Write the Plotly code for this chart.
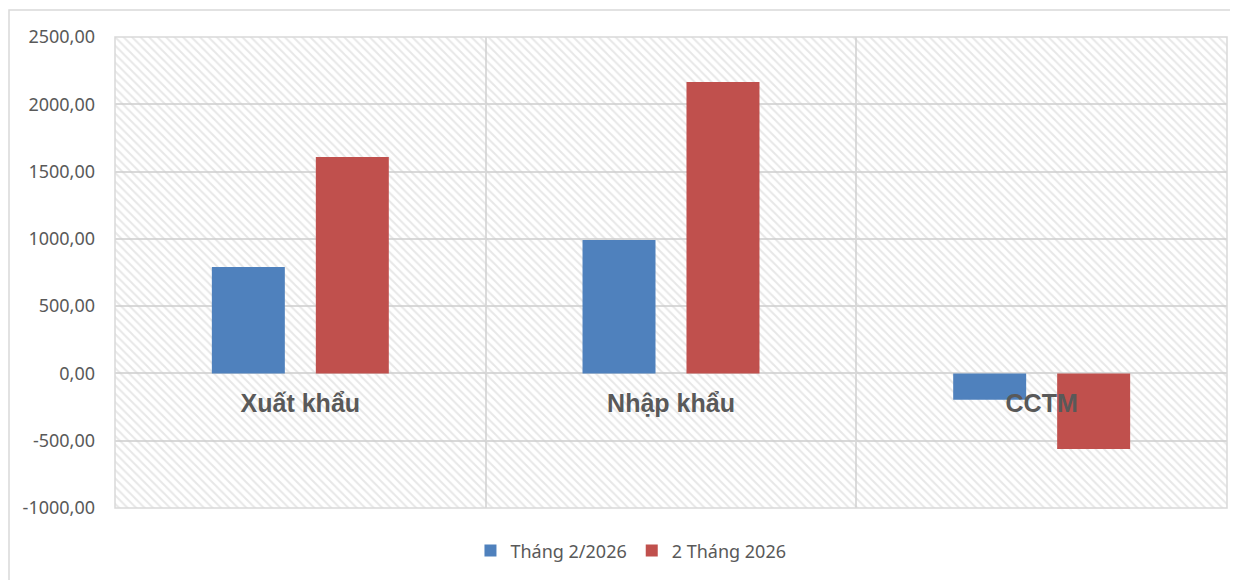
import plotly.graph_objects as go

categories = ["Xuất khẩu", "Nhập khẩu", "CCTM"]
series_names = ["Tháng 2/2026", "2 Tháng 2026"]
thang2_2026 = [790.0, 992.0, -195.0]
hai_thang_2026 = [1608.0, 2166.0, -561.0]
series_colors = ["#4F81BD", "#C0504D"]
y_ticks = [-1000, -500, 0, 500, 1000, 1500, 2000, 2500]
y_tick_text = [f"{v:.2f}".replace(".", ",") for v in y_ticks]
y_min, y_max = -1000, 2500

fig = go.Figure()

# decorative hatched plot-area background (on hidden primary axes, in plot-area fractions)
fig.add_trace(go.Scatter(
    x=[0, 1, 1, 0, 0], y=[0, 0, 1, 1, 0],
    xaxis="x", yaxis="y",
    mode="lines", fill="toself",
    line=dict(width=0, color="rgba(0,0,0,0)"),
    fillcolor="rgba(0,0,0,0)",
    fillpattern=dict(shape="\\", fgcolor="#d0d0d0", bgcolor="rgba(255,255,255,0)",
                     size=6, solidity=0.32),
    hoverinfo="skip", showlegend=False,
))

for name, vals, col in zip(series_names, [thang2_2026, hai_thang_2026], series_colors):
    fig.add_trace(go.Bar(
        x=categories, y=vals, name=name,
        marker=dict(color=col, line=dict(width=0)),
        xaxis="x2", yaxis="y2",
    ))

zero_pos = (0 - y_min) / (y_max - y_min)

fig.update_layout(
    width=1230, height=572,
    margin=dict(l=107, r=11, t=29, b=72),
    paper_bgcolor="white", plot_bgcolor="white",
    barmode="group", bargap=0.439, bargroupgap=0.298,
    font=dict(family="Noto Sans", color="#595959"),
    xaxis=dict(domain=[0, 1], range=[0, 1], visible=False, fixedrange=True),
    yaxis=dict(domain=[0, 1], range=[0, 1], visible=False, fixedrange=True),
    xaxis2=dict(
        overlaying="x", anchor="free", position=zero_pos,
        type="category", tickson="boundaries",
        showgrid=True, gridcolor="#dcdcdc", gridwidth=1.5,
        ticks="", showline=False,
        tickfont=dict(family="Liberation Sans", size=25, color="#595959", weight="bold"),
        ticklabelstandoff=13,
        range=[-0.5, 2.5],
    ),
    yaxis2=dict(
        overlaying="y", anchor="free", position=0,
        range=[y_min, y_max],
        tickvals=y_ticks, ticktext=y_tick_text,
        showgrid=True, gridcolor="#d9d9d9", gridwidth=1.5,
        zeroline=False, ticks="", showline=False,
        tickfont=dict(family="Noto Sans", size=18, color="#595959"),
        ticklabelstandoff=20,
    ),
    legend=dict(
        orientation="h", x=0.464, xanchor="center", y=-0.091, yanchor="middle",
        font=dict(family="Noto Sans", size=18, color="#595959"),
        bgcolor="rgba(0,0,0,0)", itemwidth=30,
    ),
    shapes=[
        dict(type="rect", xref="paper", yref="paper", x0=0, x1=1, y0=0, y1=1,
             line=dict(color="#d9d9d9", width=1.5), layer="above"),
        dict(type="rect", xref="paper", yref="paper",
             x0=(9 - 115) / 1112, x1=(1250 - 115) / 1112,
             y0=(508 - 590) / 471, y1=(508 - 10) / 471,
             line=dict(color="#d9d9d9", width=1.5)),
    ],
)

fig.write_html("out.html")
